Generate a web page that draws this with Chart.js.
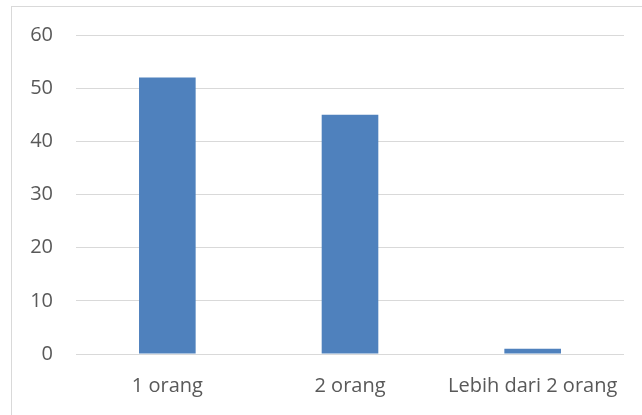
<!DOCTYPE html>
<html>
<head>
<meta charset="utf-8">
<script src="https://cdn.jsdelivr.net/npm/chart.js@4"></script>
<style>
  html, body { margin: 0; padding: 0; background: #fff; }
  #wrap { position: relative; width: 642px; height: 415px; overflow: hidden; }
  #frame { position: absolute; left: 11px; top: 6px; width: 700px; height: 500px; border: 1px solid #d9d9d9; }
  canvas { position: absolute; left: 0; top: 0; }
</style>
</head>
<body>
<div id="wrap">
  <div id="frame"></div>
  <canvas id="chart" width="642" height="415"></canvas>
</div>
<script>
const categories = ["1 orang", "2 orang", "Lebih dari 2 orang"];
const values = [52, 45, 1];
const yTicks = [0, 10, 20, 30, 40, 50, 60];

const ctx = document.getElementById("chart").getContext("2d");
new Chart(ctx, {
  type: "bar",
  data: {
    labels: categories,
    datasets: [
      {
        data: values,
        backgroundColor: "#4f81bd",
        categoryPercentage: 1,
        barPercentage: 0.31,
      },
    ],
  },
  options: {
    responsive: false,
    animation: false,
    layout: { padding: { top: 35, right: 18, left: 0, bottom: 0 } },
    plugins: { legend: { display: false }, tooltip: { enabled: false } },
    scales: {
      x: {
        grid: { display: false, drawTicks: false },
        border: { display: false },
        ticks: { color: "#595959", font: { family: "Open Sans", size: 20 }, padding: 20, maxRotation: 0, autoSkip: false },
        afterFit: (s) => { s.height = 61; },
      },
      y: {
        min: yTicks[0],
        max: yTicks[yTicks.length - 1],
        afterBuildTicks: (s) => { s.ticks = yTicks.map((v) => ({ value: v })); },
        grid: { color: "#d9d9d9", lineWidth: 1, drawTicks: false },
        border: { display: false },
        ticks: { color: "#595959", font: { family: "Open Sans", size: 20 }, padding: 23 },
        afterFit: (s) => { s.width = 76; },
      },
    },
  },
});
</script>
</body>
</html>
